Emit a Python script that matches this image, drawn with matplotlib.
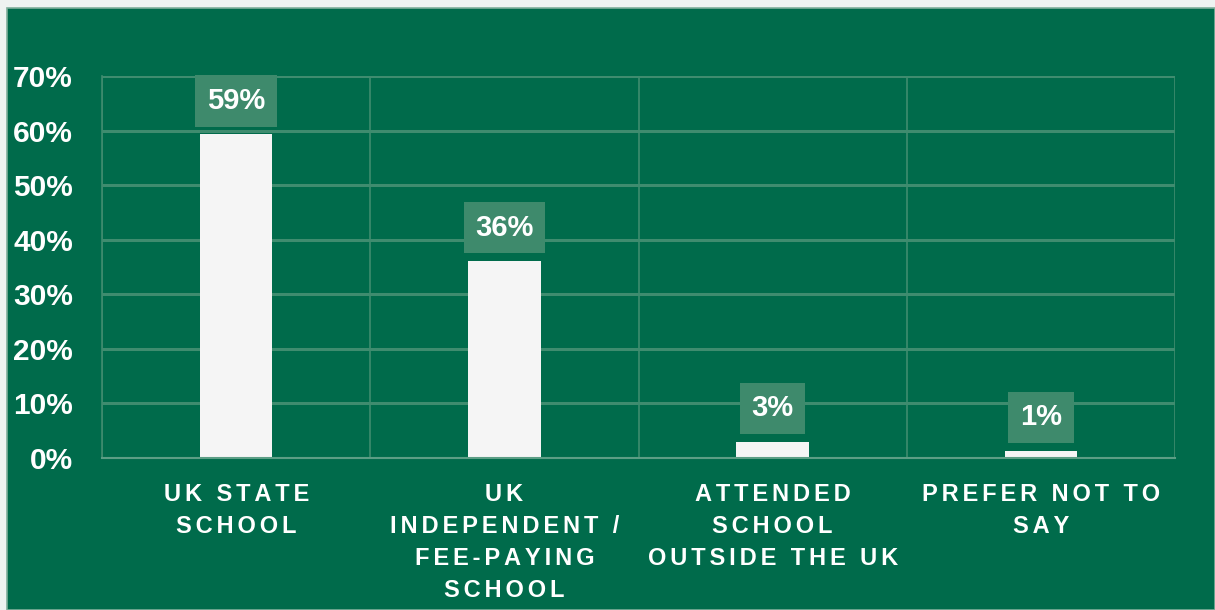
import matplotlib
matplotlib.use("Agg")
import matplotlib.pyplot as plt
from matplotlib.patches import Rectangle
from matplotlib.ticker import FixedLocator

categories = ["UK STATE\nSCHOOL", "UK\nINDEPENDENT /\nFEE-PAYING\nSCHOOL",
              "ATTENDED\nSCHOOL\nOUTSIDE THE UK", "PREFER NOT TO\nSAY"]
values = [59.3, 36.1, 3.0, 1.3]
value_labels = ["59%", "36%", "3%", "1%"]
y_ticks = [0, 10, 20, 30, 40, 50, 60, 70]
y_tick_labels = ["0%", "10%", "20%", "30%", "40%", "50%", "60%", "70%"]

BG = "#006B4B"
GRID = "#3F8C6F"
BOX = "#3E8A6C"
BAR = "#F5F5F5"

def spaced(s, sp="\u2006"):
    out = []
    for line in s.split("\n"):
        out.append(sp.join(list(line)))
    return "\n".join(out)

W, H = 1215, 610
fig = plt.figure(figsize=(W / 100, H / 100), dpi=100)
fig.patch.set_facecolor("#EEF3F1")
fig.patches.append(Rectangle((7 / W, 0), 1 - 7 / W, 1 - 8 / H, transform=fig.transFigure,
                             facecolor=BG, edgecolor="#7FAF9B", linewidth=1.2, zorder=-10))

ax = fig.add_axes([102 / W, 1 - 458 / H, (1175 - 102) / W, (458 - 76) / H])
ax.set_facecolor("none")
x = list(range(len(categories)))
ax.bar(x, values, width=0.27, color=BAR, zorder=3)
ax.set_xlim(-0.5, len(categories) - 0.5)
ax.set_ylim(0, 70)

ax.set_yticks(y_ticks)
ax.set_yticklabels(y_tick_labels, fontsize=21.5, fontweight="bold", color="white",
                   family=["Liberation Sans", "DejaVu Sans"])
ax.set_xticks(x)
ax.set_xticklabels([spaced(c) for c in categories], fontsize=17, fontweight="bold",
                   color="white", family=["Liberation Sans", "DejaVu Sans"], linespacing=1.5,
                   va="top")
ax.tick_params(axis="y", length=0, pad=21)
ax.tick_params(axis="x", length=0, pad=18)

ax.xaxis.set_minor_locator(FixedLocator([i - 0.5 for i in range(len(categories) + 1)]))
ax.grid(axis="y", which="major", color=GRID, linewidth=2.2, zorder=1)
ax.grid(axis="x", which="minor", color=GRID, linewidth=1.2, zorder=1)
ax.tick_params(axis="x", which="minor", length=0)
for s in ["top", "right"]:
    ax.spines[s].set_visible(False)
ax.spines["left"].set_color(GRID)
ax.spines["left"].set_linewidth(1.2)
ax.spines["bottom"].set_color("#5C9E85")
ax.spines["bottom"].set_linewidth(1.5)
ax.spines["bottom"].set_zorder(4)

for xi, v, lab in zip(x, values, value_labels):
    ax.annotate(lab, (xi, v), xytext=(0, 14), textcoords="offset points",
                ha="center", va="bottom", fontsize=21, fontweight="bold", color="white",
                family=["Liberation Sans", "DejaVu Sans"], zorder=5,
                bbox=dict(boxstyle="square,pad=0.4", facecolor=BOX, edgecolor="none"))

fig.savefig("out.png", dpi=100, facecolor=fig.get_facecolor())
